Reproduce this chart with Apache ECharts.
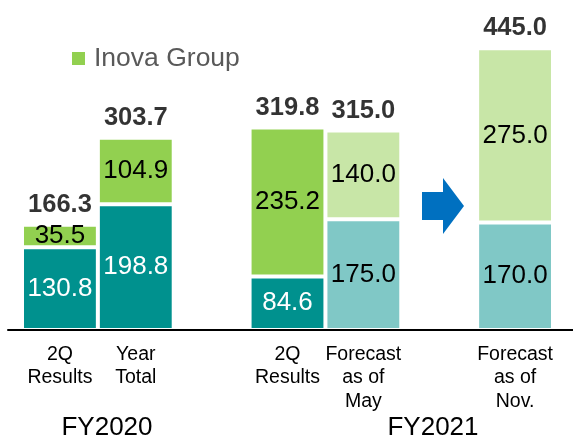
<!DOCTYPE html>
<html>
<head>
<meta charset="utf-8">
<script src="https://cdn.jsdelivr.net/npm/echarts@6/dist/echarts.min.js"></script>
<style>
  html, body { margin: 0; padding: 0; background: #fff; }
  #chart { width: 573px; height: 439px; }
</style>
</head>
<body>
<div id="chart"></div>
<script>
  // 空的类目用来留出两组之间的间隔
  const categories = ['2Q\nResults', 'Year\nTotal', '', '2Q\nResults', 'Forecast\nas of\nMay', '', 'Forecast\nas of\nNov.']
  const baseValues = [130.8, 198.8, '-', 84.6, 175.0, '-', 170.0]
  const inovaValues = [35.5, 104.9, '-', 235.2, 140.0, '-', 275.0]
  const totalValues = [166.3, 303.7, '-', 319.8, 315.0, '-', 445.0]
  const groupLabels = ['FY2020', 'FY2021']

  const forecastIdx = [4, 6]
  const font = 'Liberation Sans, Arial, sans-serif'
  const isForecast = i => forecastIdx.indexOf(i) > -1
  const fmt = p => Number(p.value).toFixed(1)

  const myChart = echarts.init(document.getElementById('chart'))

  let option = {
    animation: false,
    textStyle: { fontFamily: font },
    legend: {
      data: ['Inova Group'],
      left: 72,
      top: 45,
      padding: 0,
      icon: 'rect',
      itemWidth: 13,
      itemHeight: 13,
      itemStyle: { borderWidth: 0, borderColor: 'transparent', color: '#92D050' },
      textStyle: {
        fontSize: 26.5,
        color: '#595959',
        fontFamily: font,
        padding: [0, 0, 0, 4]
      }
    },
    grid: [
      { left: 22, right: 20, top: 13.5, bottom: 109 },
      { left: 8, right: 0, top: 13.5, bottom: 109 }
    ],
    xAxis: [
      {
        type: 'category',
        data: categories,
        axisLine: { show: false },
        axisTick: { show: false },
        axisLabel: {
          margin: 13,
          interval: 0,
          fontSize: 19.5,
          lineHeight: 23.3,
          color: '#000',
          fontFamily: font
        }
      },
      {
        // 底部的黑色基线
        gridIndex: 1,
        type: 'value',
        min: 0,
        max: 1,
        z: 10,
        axisLine: { show: true, onZero: false, lineStyle: { color: '#000', width: 2 } },
        axisTick: { show: false },
        axisLabel: { show: false },
        splitLine: { show: false }
      }
    ],
    yAxis: [
      { type: 'value', min: 0, max: 500, show: false },
      { gridIndex: 1, type: 'value', min: 0, max: 1, show: false }
    ],
    graphic: [
      {
        type: 'polygon',
        shape: {
          points: [[422, 192], [443, 192], [443, 178], [464, 206], [443, 234], [443, 220], [422, 220]]
        },
        style: { fill: '#0070C0' }
      },
      {
        type: 'text',
        x: 107,
        y: 427.5,
        style: { text: groupLabels[0], fill: '#000', font: '26px ' + font, textAlign: 'center', textVerticalAlign: 'middle' }
      },
      {
        type: 'text',
        x: 433,
        y: 427.5,
        style: { text: groupLabels[1], fill: '#000', font: '26px ' + font, textAlign: 'center', textVerticalAlign: 'middle' }
      }
    ],
    series: [
      {
        name: 'Base',
        type: 'bar',
        stack: 'total',
        barWidth: '100%',
        // 预测值的底部标签用黑色
        data: baseValues.map((v, i) => (
          v === '-' ? v : { value: v, label: { color: isForecast(i) ? '#000' : '#fff' } }
        )),
        itemStyle: {
          color: p => isForecast(p.dataIndex) ? '#80C8C6' : '#00918E',
          borderColor: '#fff',
          borderWidth: 2
        },
        label: {
          show: true,
          position: 'inside',
          fontSize: 26,
          fontFamily: font,
          formatter: fmt
        }
      },
      {
        name: 'Inova Group',
        type: 'bar',
        stack: 'total',
        barWidth: '100%',
        data: inovaValues,
        itemStyle: {
          color: p => isForecast(p.dataIndex) ? '#C8E6A7' : '#92D050',
          borderColor: '#fff',
          borderWidth: 2
        },
        label: {
          show: true,
          position: 'inside',
          fontSize: 26,
          fontFamily: font,
          color: '#000',
          formatter: fmt
        }
      },
      {
        name: 'Total',
        type: 'scatter',
        symbolSize: 0,
        data: totalValues,
        z: 5,
        label: {
          show: true,
          position: 'top',
          distance: 7,
          fontSize: 25.5,
          fontWeight: 'bold',
          fontFamily: font,
          color: '#000',
          formatter: fmt
        }
      }
    ]
  }

  myChart.setOption(option)
</script>
</body>
</html>
